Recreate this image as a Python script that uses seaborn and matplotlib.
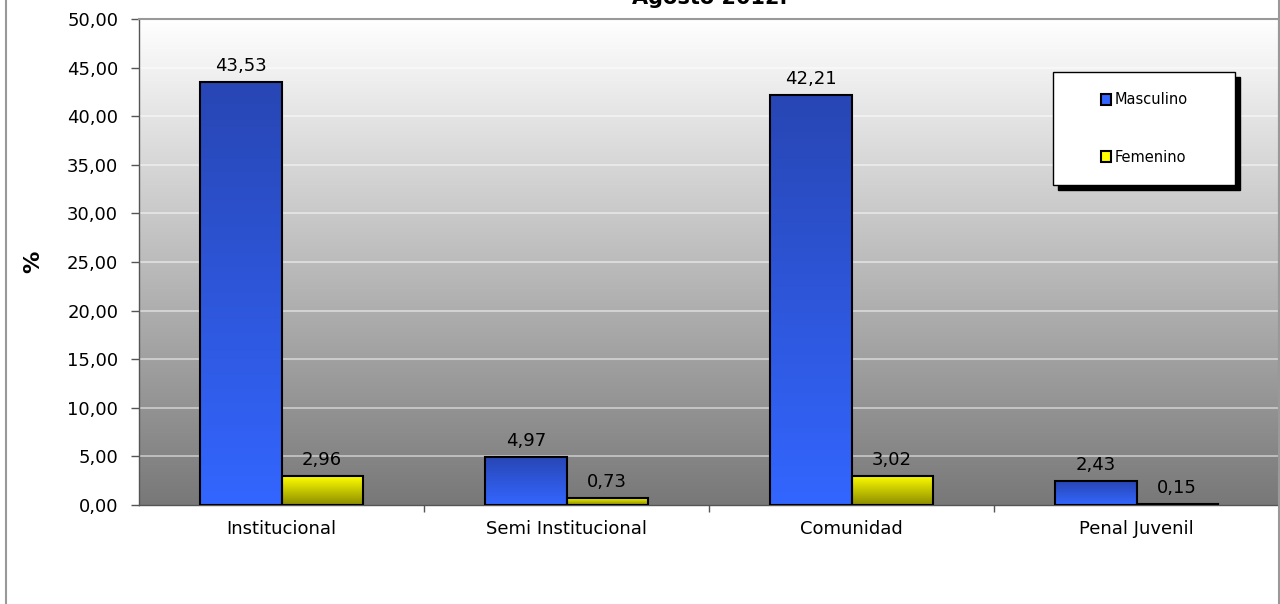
import numpy as np
import pandas as pd
import matplotlib
matplotlib.use("Agg")
import matplotlib.pyplot as plt
import seaborn as sns
from matplotlib.patches import Rectangle, Patch
from matplotlib.colors import LinearSegmentedColormap

categories = ["Institucional", "Semi Institucional", "Comunidad", "Penal Juvenil"]
series_names = ["Masculino", "Femenino"]
masculino = [43.53, 4.97, 42.21, 2.43]
femenino = [2.96, 0.73, 3.02, 0.15]
yticks = [0, 5, 10, 15, 20, 25, 30, 35, 40, 45, 50]
title = "Agosto 2012."
ylabel = "%"

df = pd.DataFrame({
    "cat": categories * 2,
    "serie": [series_names[0]] * 4 + [series_names[1]] * 4,
    "val": masculino + femenino,
})

sns.set_theme(style="white")
plt.rcParams["font.family"] = ["DejaVu Sans"]
plt.rcParams["text.color"] = "black"
plt.rcParams["axes.labelcolor"] = "black"
plt.rcParams["xtick.labelcolor"] = "black"
plt.rcParams["ytick.labelcolor"] = "black"

fig = plt.figure(figsize=(12.8, 6.04), dpi=100)
W, H = 1280, 604
ax = fig.add_axes([139 / W, 1 - 505 / H, 1140 / W, (505 - 19) / H])

base_cols = {"Masculino": "#3366ff", "Femenino": "#ffff00"}
sns.barplot(data=df, x="cat", y="val", hue="serie", order=categories,
            hue_order=series_names, palette=base_cols, width=0.57,
            edgecolor="black", linewidth=1.5, ax=ax, legend=False, zorder=3)

ax.set_xlim(-0.5, 3.5)
ax.set_ylim(0, 50)

# background gradient
bg = LinearSegmentedColormap.from_list("bg", ["#787878", "#ffffff"])
grad = np.linspace(0, 1, 256).reshape(-1, 1)
ax.imshow(grad, extent=[0, 1, 0, 1], transform=ax.transAxes, origin="lower",
          cmap=bg, aspect="auto", zorder=0)

# grid lines
for t in yticks[1:-1]:
    ax.axhline(t, color="white", alpha=0.55, linewidth=1.2, zorder=1)

blue_cm = LinearSegmentedColormap.from_list("bl", ["#3366ff", "#2846b4"])
yel_cm = LinearSegmentedColormap.from_list("yl", ["#8c8c00", "#ffff00"])

bars = list(ax.patches)
vals = masculino + femenino
for i, bar in enumerate(bars):
    cm = blue_cm if i < 4 else yel_cm
    x0, y0 = bar.get_x(), bar.get_y()
    w, h = bar.get_width(), bar.get_height()
    im = ax.imshow(grad, extent=[x0, x0 + w, y0, y0 + h], origin="lower",
                   cmap=cm, aspect="auto", zorder=2.5)
    im.set_clip_path(bar)
    bar.set_facecolor("none")
    ax.annotate(f"{vals[i]:.2f}".replace(".", ","), (x0 + w / 2, y0 + h),
                xytext=(0, 5), textcoords="offset points", ha="center",
                va="bottom", fontsize=13, color="black", zorder=5)

ax.set_xlim(-0.5, 3.5)
ax.set_ylim(0, 50)

ax.set_yticks(yticks)
ax.set_yticklabels([f"{t:.2f}".replace(".", ",") for t in yticks], fontsize=13)
ax.tick_params(axis="y", direction="out", length=6, width=1, color="#555555",
               pad=9, left=True, labelcolor="black")
ax.set_xticks(range(4))
ax.set_xticklabels(categories, fontsize=13)
ax.tick_params(axis="x", length=0, pad=11, labelcolor="black")
ax.set_xticks([0.5, 1.5, 2.5], minor=True)
ax.tick_params(axis="x", which="minor", direction="out", length=5, width=1,
               color="#555555", bottom=True)
ax.set_xlabel("")
ax.set_ylabel(ylabel, fontsize=16, fontweight="bold", color="black")
ax.yaxis.set_label_coords(-0.084, 0.5)

for s in ["left", "bottom"]:
    ax.spines[s].set_color("#555555")
    ax.spines[s].set_linewidth(1)
for s in ["top", "right"]:
    ax.spines[s].set_color("#999999")
    ax.spines[s].set_linewidth(1.5)

# title (partly cut at top, as in the original)
fig.text(710 / W, 1 - 4 / H, title, ha="center", va="baseline",
         fontsize=15, fontweight="bold", color="black")

# chart area border
fig.add_artist(Rectangle((6 / W, -0.1), 1273 / W, 1.2, transform=fig.transFigure,
                         fill=False, edgecolor="#999999", linewidth=1.5))

# legend box with shadow
bx0, bx1, by0, by1 = 1053, 1235, 72, 185
fig.add_artist(Rectangle(((bx0 + 5) / W, 1 - (by1 + 5) / H), (bx1 - bx0) / W,
                         (by1 - by0) / H, transform=fig.transFigure,
                         facecolor="black", edgecolor="black", zorder=8))
fig.add_artist(Rectangle((bx0 / W, 1 - by1 / H), (bx1 - bx0) / W,
                         (by1 - by0) / H, transform=fig.transFigure,
                         facecolor="white", edgecolor="black", linewidth=1,
                         zorder=9))
handles = [Patch(facecolor=base_cols[n], edgecolor="black", linewidth=1.5)
           for n in series_names]
leg = fig.legend(handles, series_names, loc="center",
                 bbox_to_anchor=((bx0 + bx1) / 2 / W, 1 - (by0 + by1) / 2 / H),
                 bbox_transform=fig.transFigure, frameon=False, fontsize=10.5,
                 handlelength=0.75, handleheight=0.75, handletextpad=0.2,
                 labelspacing=2.9, labelcolor="black")
leg.set_zorder(10)

fig.savefig("out.png", dpi=100)
